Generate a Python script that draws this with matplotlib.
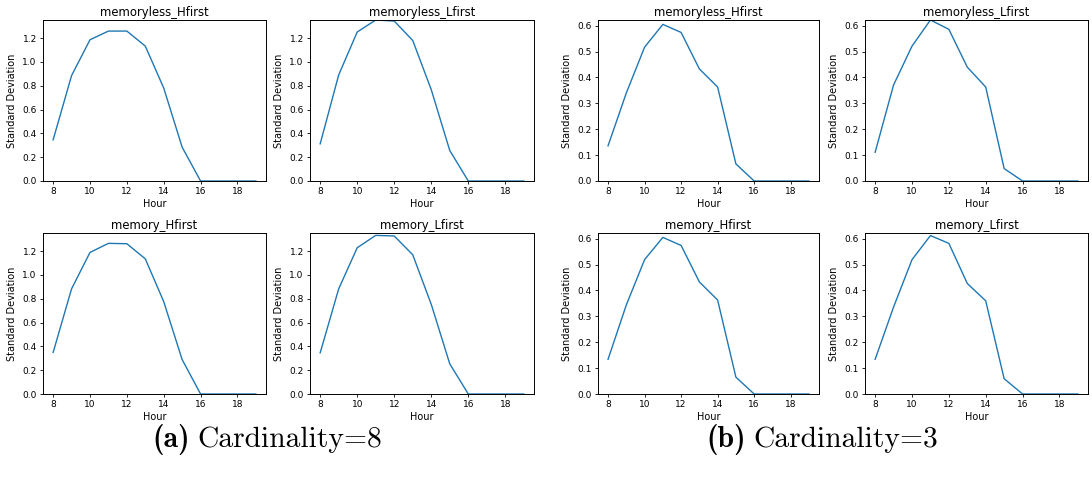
import numpy as np
import matplotlib
matplotlib.use('Agg')
import matplotlib.pyplot as plt

# Hourly standard deviation for each strategy
hours = np.arange(8, 20)

# Cardinality = 8
c8_memoryless_hfirst = [0.346, 0.885, 1.186, 1.259, 1.259, 1.133, 0.781, 0.284, 0, 0, 0, 0]
c8_memoryless_lfirst = [0.312, 0.891, 1.251, 1.352, 1.343, 1.180, 0.767, 0.256, 0, 0, 0, 0]
c8_memory_hfirst = [0.349, 0.883, 1.189, 1.265, 1.262, 1.135, 0.776, 0.289, 0, 0, 0, 0]
c8_memory_lfirst = [0.346, 0.883, 1.228, 1.332, 1.327, 1.169, 0.753, 0.253, 0, 0, 0, 0]

# Cardinality = 3
c3_memoryless_hfirst = [0.136, 0.340, 0.517, 0.605, 0.574, 0.433, 0.363, 0.066, 0, 0, 0, 0]
c3_memoryless_lfirst = [0.111, 0.371, 0.521, 0.622, 0.586, 0.440, 0.363, 0.048, 0, 0, 0, 0]
c3_memory_hfirst = [0.134, 0.344, 0.519, 0.605, 0.574, 0.433, 0.363, 0.065, 0, 0, 0, 0]
c3_memory_lfirst = [0.134, 0.336, 0.519, 0.612, 0.582, 0.427, 0.360, 0.059, 0, 0, 0, 0]

titles = ['memoryless_Hfirst', 'memoryless_Lfirst', 'memory_Hfirst', 'memory_Lfirst']
groups = [
    [c8_memoryless_hfirst, c8_memoryless_lfirst, c8_memory_hfirst, c8_memory_lfirst],
    [c3_memoryless_hfirst, c3_memoryless_lfirst, c3_memory_hfirst, c3_memory_lfirst],
]
tags = ['(a)', '(b)']
captions = ['Cardinality=8', 'Cardinality=3']

W, H = 1092, 484
fig = plt.figure(figsize=(W / 100, H / 100), dpi=100)

# axes boxes in pixels: left, right for each column; top, bottom for each row
cols = [[(43, 266), (310, 534)], [(598, 819), (865, 1088)]]
rows = [(20, 181), (233, 394)]

for g, series in enumerate(groups):
    ymax = max(max(s) for s in series)
    for k, vals in enumerate(series):
        r, c = divmod(k, 2)
        x0, x1 = cols[g][c]
        y0, y1 = rows[r]
        ax = fig.add_axes([x0 / W, 1 - y1 / H, (x1 - x0) / W, (y1 - y0) / H])
        ax.plot(hours, vals, color='#1f77b4', lw=1.0)
        ax.set_ylim(0, ymax)
        ax.set_xticks([8, 10, 12, 14, 16, 18])
        ax.set_title(titles[k], fontsize=8.4, pad=3)
        ax.set_xlabel('Hour', fontsize=7, labelpad=2)
        ax.set_ylabel('Standard Deviation', fontsize=7, labelpad=4)
        ax.tick_params(labelsize=6.5, length=2.5, width=0.6, pad=2)
        for sp in ax.spines.values():
            sp.set_linewidth(0.7)

# sub-captions: bold tag followed by roman text
renderer = fig.canvas.get_renderer()
for left, tag, cap in zip([152, 706], tags, captions):
    t = fig.text(left / W, 1 - 447 / H, tag, fontsize=21.3, family='cmb10',
                 ha='left', va='baseline')
    bb = t.get_window_extent(renderer)
    fig.text((bb.x1 + 8) / W, 1 - 447 / H, cap, fontsize=21.3, family='cmr10',
             ha='left', va='baseline')

plt.savefig('out.png', dpi=100)
